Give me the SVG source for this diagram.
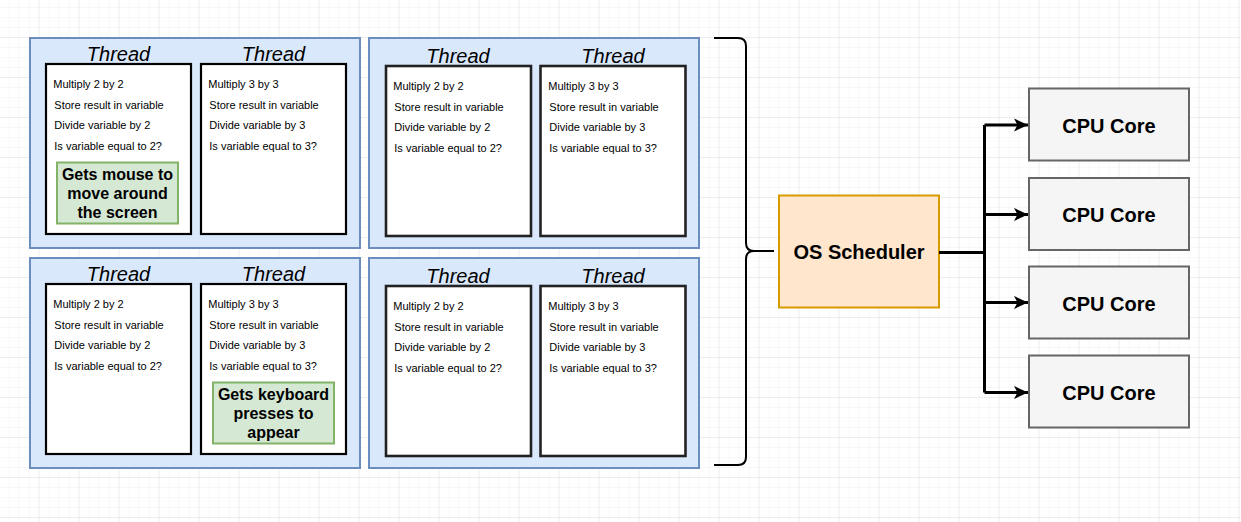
<svg xmlns="http://www.w3.org/2000/svg" width="1241" height="522" viewBox="0 0 1241 522">
<style>
.grp{fill:#dae8fc;stroke:#6c8ebf;stroke-width:2}
.thr{fill:#fff;stroke:#000;stroke-width:2.2}
.thr2{fill:#fff;stroke:#222;stroke-width:2.6}
.lbl{font-family:"Liberation Sans",Arial,sans-serif;font-style:italic;font-size:20px;fill:#000;text-anchor:middle}
.op{font-family:"Liberation Sans",Arial,sans-serif;font-size:11px;fill:#000}
.note{fill:#d5e8d4;stroke:#82b366;stroke-width:2}
.nt{font-family:"Liberation Sans",Arial,sans-serif;font-weight:bold;font-size:16px;fill:#000;text-anchor:middle}
.sch{fill:#ffe6cc;stroke:#d79b00;stroke-width:2}
.cpu{fill:#f5f5f5;stroke:#666;stroke-width:2}
.big{font-family:"Liberation Sans",Arial,sans-serif;font-weight:bold;font-size:20px;fill:#000;text-anchor:middle}
.conn{fill:none;stroke:#000;stroke-width:3}
</style>
<defs>
<pattern id="minor" width="10" height="10" patternUnits="userSpaceOnUse" x="-0.5" y="-2">
<path d="M10 0V10M0 10H10" fill="none" stroke="#f1f1f1" stroke-width="1"/>
</pattern>
<pattern id="major" width="40" height="40" patternUnits="userSpaceOnUse" x="-0.5" y="-2">
<path d="M40 0V40M0 40H40" fill="none" stroke="#e3e3e3" stroke-width="1"/>
</pattern>
<marker id="arr" markerWidth="15" markerHeight="14" refX="14" refY="7" orient="auto" markerUnits="userSpaceOnUse">
<path d="M0,0.5 L14,7 L0,13.5 L3.5,7 Z" fill="#000"/>
</marker>
<g id="ops2">
<text class="op" x="0" y="0">Multiply 2 by 2</text>
<text class="op" x="1" y="20.5">Store result in variable</text>
<text class="op" x="1" y="41">Divide variable by 2</text>
<text class="op" x="1" y="62">Is variable equal to 2?</text>
</g>
<g id="ops3">
<text class="op" x="0" y="0">Multiply 3 by 3</text>
<text class="op" x="1" y="20.5">Store result in variable</text>
<text class="op" x="1" y="41">Divide variable by 3</text>
<text class="op" x="1" y="62">Is variable equal to 3?</text>
</g>
</defs>
<rect width="1241" height="522" fill="#fff"/>
<rect width="1241" height="522" fill="url(#minor)"/>
<rect width="1241" height="522" fill="url(#major)"/>

<g id="process-tl">
<rect class="grp" x="30" y="38" width="330" height="210"/>
<text class="lbl" x="118.5" y="61">Thread</text>
<text class="lbl" x="273.5" y="61">Thread</text>
<rect class="thr" x="46" y="64" width="145" height="170"/>
<rect class="thr" x="201" y="64" width="145" height="170"/>
<use href="#ops2" x="53.3" y="88"/>
<use href="#ops3" x="208.3" y="88"/>
<rect class="note" x="57" y="162.5" width="121" height="61"/>
<text class="nt" x="117.5" y="180">Gets mouse to</text>
<text class="nt" x="117.5" y="199">move around</text>
<text class="nt" x="117.5" y="218">the screen</text>
</g>

<g id="process-tr">
<rect class="grp" x="369" y="38" width="330" height="210"/>
<text class="lbl" x="458" y="63">Thread</text>
<text class="lbl" x="613" y="63">Thread</text>
<rect class="thr2" x="386" y="66" width="145" height="170"/>
<rect class="thr2" x="540.5" y="66" width="145" height="170"/>
<use href="#ops2" x="393.3" y="90"/>
<use href="#ops3" x="548.3" y="90"/>
</g>

<g id="process-bl">
<rect class="grp" x="30" y="258" width="330" height="210"/>
<text class="lbl" x="118.5" y="281">Thread</text>
<text class="lbl" x="273.5" y="281">Thread</text>
<rect class="thr" x="46" y="284" width="145" height="170"/>
<rect class="thr" x="201" y="284" width="145" height="170"/>
<use href="#ops2" x="53.3" y="308"/>
<use href="#ops3" x="208.3" y="308"/>
<rect class="note" x="213" y="382.5" width="121" height="61"/>
<text class="nt" x="273.5" y="400">Gets keyboard</text>
<text class="nt" x="273.5" y="419">presses to</text>
<text class="nt" x="273.5" y="438">appear</text>
</g>

<g id="process-br">
<rect class="grp" x="369" y="258" width="330" height="210"/>
<text class="lbl" x="458" y="283">Thread</text>
<text class="lbl" x="613" y="283">Thread</text>
<rect class="thr2" x="386" y="286" width="145" height="170"/>
<rect class="thr2" x="540.5" y="286" width="145" height="170"/>
<use href="#ops2" x="393.3" y="310"/>
<use href="#ops3" x="548.3" y="310"/>
</g>

<g id="brace">
<path d="M714,38 H738 Q746,38 746,46 V243 Q746,251 754,251 H774 M754,251 Q746,251 746,259 V457 Q746,465 738,465 H714" fill="none" stroke="#000" stroke-width="2"/>
</g>

<g id="scheduler">
<rect class="sch" x="779" y="195.5" width="160" height="112"/>
<text class="big" x="859" y="259">OS Scheduler</text>
</g>

<g id="cpu1"><rect class="cpu" x="1029" y="88.5" width="160" height="72"/><text class="big" x="1109" y="133">CPU Core</text></g>
<g id="cpu2"><rect class="cpu" x="1029" y="178" width="160" height="72"/><text class="big" x="1109" y="222">CPU Core</text></g>
<g id="cpu3"><rect class="cpu" x="1029" y="266.5" width="160" height="72"/><text class="big" x="1109" y="310.5">CPU Core</text></g>
<g id="cpu4"><rect class="cpu" x="1029" y="355.5" width="160" height="72"/><text class="big" x="1109" y="399.5">CPU Core</text></g>

<g id="connectors">
<path class="conn" d="M939,252.5 H984.5"/>
<path class="conn" d="M984.5,125 V392.5"/>
<path class="conn" d="M984.5,125 H1028" marker-end="url(#arr)"/>
<path class="conn" d="M984.5,214.5 H1028" marker-end="url(#arr)"/>
<path class="conn" d="M984.5,302.5 H1028" marker-end="url(#arr)"/>
<path class="conn" d="M984.5,392.5 H1028" marker-end="url(#arr)"/>
</g>
</svg>
